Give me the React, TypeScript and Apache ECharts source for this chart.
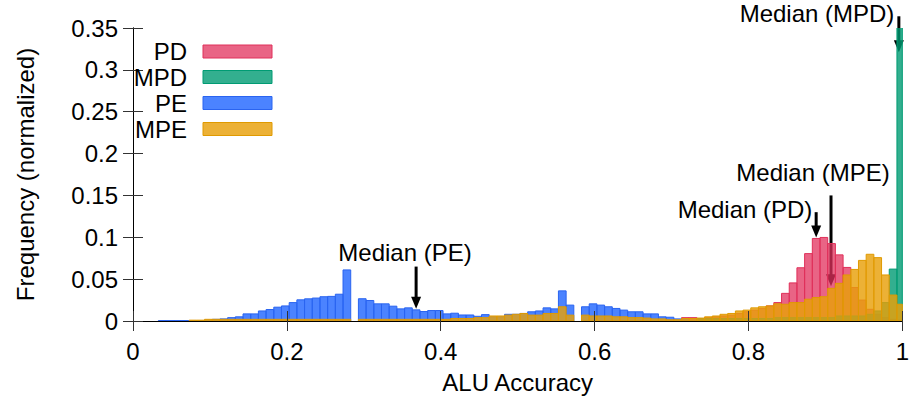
import React, { useEffect, useRef } from "react";
import * as echarts from "echarts";

// histogram bins: bin i covers [i*0.01 + shift, (i+1)*0.01 + shift]
const BIN_WIDTH = 0.01;
const BIN_SHIFT = 0.003;

const xTicks = [0, 0.2, 0.4, 0.6, 0.8, 1];
const yTicks = [0, 0.05, 0.1, 0.15, 0.2, 0.25, 0.3, 0.35];

const seriesNames = ["PD", "MPD", "PE", "MPE"];

// values per bin (100 bins)
const pdValues = [
  0, 0, 0, 0, 0, 0, 0, 0, 0, 0,
  0, 0, 0, 0, 0, 0, 0, 0, 0, 0,
  0, 0, 0, 0, 0, 0, 0, 0, 0, 0,
  0, 0, 0, 0, 0, 0, 0, 0, 0, 0,
  0, 0, 0, 0, 0, 0, 0, 0, 0, 0,
  0, 0, 0, 0, 0, 0, 0, 0, 0, 0,
  0, 0, 0, 0, 0, 0, 0, 0, 0, 0,
  0, 0.004, 0.004, 0.003, 0.004, 0.005, 0.006, 0.007, 0.009, 0.011,
  0.013, 0.015, 0.018, 0.022, 0.033, 0.0455, 0.0636, 0.0805, 0.0986, 0.0998,
  0.0925, 0.079, 0.064, 0.04, 0.025, 0.014, 0.008, 0.004, 0.002, 0.001,
];

const mpdValues = [
  0, 0, 0, 0, 0, 0, 0, 0, 0, 0,
  0, 0, 0, 0, 0, 0, 0, 0, 0, 0,
  0, 0, 0, 0, 0, 0, 0, 0, 0, 0,
  0, 0, 0, 0, 0, 0, 0, 0, 0, 0,
  0, 0, 0, 0, 0, 0, 0, 0, 0, 0,
  0, 0, 0, 0, 0, 0, 0, 0, 0, 0,
  0, 0, 0, 0, 0, 0, 0, 0, 0, 0,
  0, 0, 0, 0.003, 0.003, 0.003, 0.003, 0.003, 0.003, 0.003,
  0.003, 0.003, 0.003, 0.004, 0.004, 0.004, 0.004, 0.004, 0.004, 0.004,
  0.004, 0.006, 0.006, 0.006, 0.006, 0.008, 0.012, 0.022, 0.062, 0.62,
];

const peValues = [
  0, 0, 0, 0.0005, 0.0005, 0.0005, 0.0005, 0.0005, 0.0005, 0.001,
  0.002, 0.0025, 0.004, 0.005, 0.0085, 0.0085, 0.012, 0.0137, 0.0165, 0.018,
  0.022, 0.0253, 0.0265, 0.0274, 0.029, 0.0294, 0.032, 0.061, 0, 0.0266,
  0.0245, 0.0205, 0.0205, 0.0177, 0.0145, 0.0157, 0.0133, 0.0113, 0.0125, 0.0125,
  0.0085, 0.0093, 0.0072, 0.0072, 0.0056, 0.0076, 0.005, 0.005, 0.008, 0.008,
  0.009, 0.011, 0.012, 0.0157, 0.0145, 0.036, 0.019, 0, 0.017, 0.0205,
  0.019, 0.017, 0.015, 0.013, 0.011, 0.011, 0.0085, 0.0085, 0.005, 0.0045,
  0.0025, 0.002, 0.001, 0, 0, 0, 0, 0, 0, 0,
  0, 0, 0, 0, 0, 0, 0, 0, 0, 0,
  0, 0, 0, 0, 0, 0, 0, 0, 0, 0,
];

const mpeValues = [
  0, 0, 0, 0, 0, 0, 0, 0.001, 0.001, 0.002,
  0.002, 0.002, 0.002, 0.002, 0.002, 0.002, 0.002, 0.002, 0.002, 0.002,
  0.002, 0.002, 0.002, 0.002, 0.002, 0.002, 0.002, 0.002, 0, 0.002,
  0.002, 0.002, 0.002, 0.002, 0.002, 0.002, 0.002, 0.002, 0.002, 0.002,
  0.002, 0.003, 0.003, 0.003, 0.004, 0.004, 0.006, 0.006, 0.007, 0.008,
  0.009, 0.007, 0.007, 0.009, 0.009, 0.017, 0.007, 0, 0.007, 0.006,
  0.006, 0.006, 0.005, 0.005, 0.004, 0.004, 0.0035, 0.0025, 0.0025, 0.0015,
  0.0015, 0.003, 0.003, 0.0035, 0.005, 0.006, 0.008, 0.009, 0.012, 0.013,
  0.0157, 0.017, 0.018, 0.0205, 0.02, 0.022, 0.022, 0.026, 0.028, 0.029,
  0.039, 0.045, 0.055, 0.0616, 0.0724, 0.0797, 0.0757, 0.055, 0.031, 0.02,
];

// median arrows: [x, y of arrow top, y of arrow tip]
const medianLabels = ["Median (PE)", "Median (PD)", "Median (MPE)", "Median (MPD)"];
const medianX = [0.368, 0.888, 0.9073, 0.9955];
const medianTop = [0.065, 0.13, 0.15, 0.364];
const medianTip = [0.0145, 0.0998, 0.0414, 0.321];

const FONT = "Liberation Sans, Arial, sans-serif";
const FS = 24;

const fills = [
  "rgba(226,48,92,0.75)",
  "rgba(0,155,115,0.8)",
  "rgba(30,100,255,0.8)",
  "rgba(232,160,10,0.82)",
];
const strokes = ["#e0305a", "#009b73", "#2a64f0", "#e09a00"];

function binData(values: number[]) {
  return values.map((v, i) => [i * BIN_WIDTH + BIN_SHIFT, v]);
}

function makeBarSeries(name: string, values: number[], idx: number) {
  return {
    type: "custom",
    name,
    clip: true,
    z: 2 + idx,
    data: binData(values),
    encode: { x: 0, y: 1 },
    renderItem: (params: any, api: any) => {
      const x0 = api.value(0);
      const v = api.value(1);
      if (!v) return null;
      const p0 = api.coord([x0, v]);
      const p1 = api.coord([x0 + BIN_WIDTH, 0]);
      const cs = params.coordSys;
      const shape = echarts.graphic.clipRectByRect(
        { x: p0[0], y: p0[1], width: p1[0] - p0[0], height: p1[1] - p0[1] },
        { x: cs.x, y: cs.y - 1, width: cs.width, height: cs.height + 1 }
      );
      if (!shape) return null;
      return {
        type: "rect",
        shape,
        style: { fill: fills[idx], stroke: strokes[idx], lineWidth: 1 },
      };
    },
  };
}

export default function App() {
  const ref = useRef<HTMLDivElement>(null);

  useEffect(() => {
    if (!ref.current) return;
    const chart = echarts.init(ref.current, null, { renderer: "svg" });

    const values = [pdValues, mpdValues, peValues, mpeValues];
    const arrowData = medianX.map((x, i) => [x, medianTop[i], medianTip[i]]);

    const fmt = (v: number) => String(+v.toFixed(2));

    const axisCommon = {
      type: "value",
      axisLine: { show: true, lineStyle: { color: "#000", width: 1 } },
      axisTick: { show: true, inside: true, length: 10, lineStyle: { color: "#333", width: 1 } },
      splitLine: { show: false },
      z: 10,
    };

    const legendRows = [51.5, 77, 103, 129];

    const graphic: any[] = [];
    seriesNames.forEach((n, i) => {
      graphic.push({
        type: "text",
        x: 187,
        y: legendRows[i],
        style: {
          text: n,
          fill: "#000",
          font: `${FS}px ${FONT}`,
          textAlign: "right",
          textVerticalAlign: "middle",
        },
        z: 20,
      });
      graphic.push({
        type: "rect",
        shape: { x: 203, y: legendRows[i] - 6.5, width: 69, height: 13 },
        style: { fill: fills[i], stroke: strokes[i], lineWidth: 1 },
        z: 20,
      });
    });

    const labelPos = [
      [405, 252],
      [745, 209],
      [813, 172],
      [817, 13],
    ];
    medianLabels.forEach((t, i) => {
      graphic.push({
        type: "text",
        x: labelPos[i][0],
        y: labelPos[i][1],
        style: {
          text: t,
          fill: "#000",
          font: `${FS}px ${FONT}`,
          textAlign: "center",
          textVerticalAlign: "middle",
        },
        z: 20,
      });
    });

    chart.setOption({
      animation: false,
      backgroundColor: "#fff",
      textStyle: { fontFamily: FONT },
      grid: { left: 133, right: 6, top: 28, bottom: 83, containLabel: false },
      xAxis: [
        {
          ...axisCommon,
          min: 0,
          max: 1,
          interval: 0.2,
          position: "bottom",
          name: "ALU Accuracy",
          nameLocation: "middle",
          nameGap: 49,
          nameTextStyle: { fontSize: FS, color: "#000", fontFamily: FONT },
          axisLabel: { fontSize: FS, color: "#000", margin: 18, fontFamily: FONT, formatter: fmt },
        },
        {
          ...axisCommon,
          min: 0,
          max: 1,
          interval: 0.2,
          position: "top",
          axisLabel: { show: false },
        },
      ],
      yAxis: [
        {
          ...axisCommon,
          min: 0,
          max: 0.35,
          interval: 0.05,
          position: "left",
          name: "Frequency (normalized)",
          nameLocation: "middle",
          nameGap: 96,
          nameTextStyle: { fontSize: FS, color: "#000", fontFamily: FONT },
          axisLabel: { fontSize: FS, color: "#000", margin: 15, fontFamily: FONT, formatter: fmt },
        },
        {
          ...axisCommon,
          min: 0,
          max: 0.35,
          interval: 0.05,
          position: "right",
          axisLabel: { show: false },
        },
      ],
      series: [
        {
          type: "custom",
          name: "medians",
          clip: false,
          z: 1,
          data: arrowData,
          encode: { x: 0, y: [1, 2] },
          renderItem: (params: any, api: any) => {
            const x = api.value(0);
            const top = api.coord([x, api.value(1)]);
            const tip = api.coord([x, api.value(2)]);
            const head = 12;
            const half = 5;
            return {
              type: "group",
              children: [
                {
                  type: "line",
                  shape: { x1: top[0], y1: top[1], x2: tip[0], y2: tip[1] - head + 2 },
                  style: { stroke: "#000", lineWidth: 3 },
                },
                {
                  type: "polygon",
                  shape: {
                    points: [
                      [tip[0] - half, tip[1] - head],
                      [tip[0] + half, tip[1] - head],
                      [tip[0], tip[1]],
                    ],
                  },
                  style: { fill: "#000" },
                },
              ],
            };
          },
        },
        ...values.map((v, i) => makeBarSeries(seriesNames[i], v, i)),
      ],
      graphic,
    });

    return () => chart.dispose();
  }, []);

  return (
    <div
      ref={ref}
      style={{ position: "absolute", left: 0, top: 0, width: 912, height: 404 }}
    />
  );
}
